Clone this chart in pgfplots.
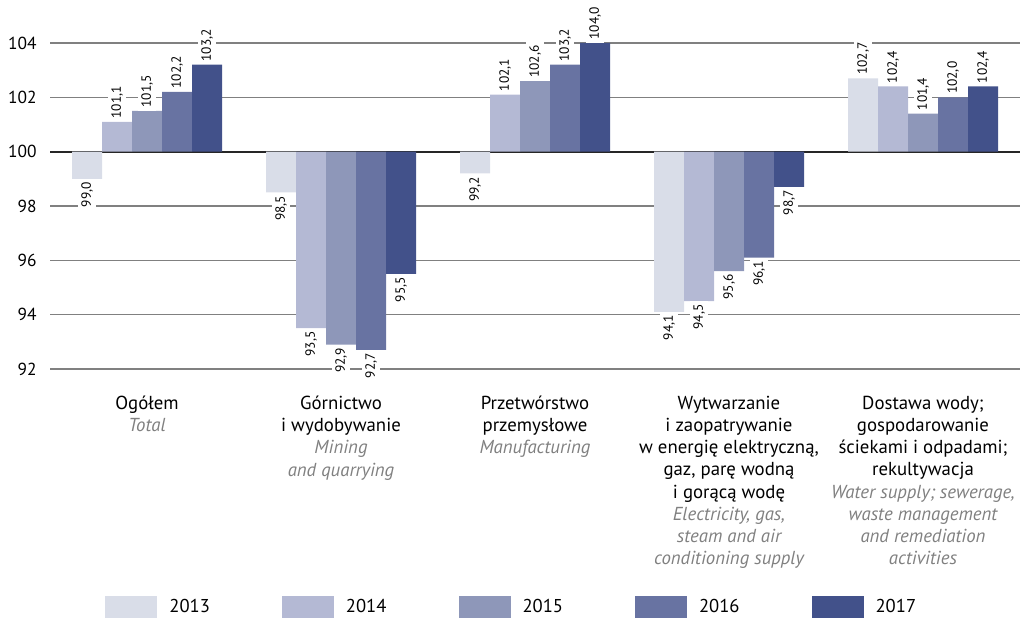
\documentclass[border=0pt]{standalone}
\usepackage{pgfplots}
\pgfplotsset{compat=1.18}
\usepackage{fontspec}
\setmainfont{PT Sans}
\definecolor{c13}{RGB}{217,221,232}
\definecolor{c14}{RGB}{180,185,212}
\definecolor{c15}{RGB}{142,151,185}
\definecolor{c16}{RGB}{104,115,162}
\definecolor{c17}{RGB}{66,81,138}
\definecolor{eng}{RGB}{128,128,128}
\newcommand{\en}[1]{{\color{eng}\itshape #1}}
\begin{document}
\begin{tikzpicture}
\useasboundingbox (0,0) rectangle (510pt,309.5pt);
\begin{axis}[
  at={(25pt,125pt)}, anchor=south west,
  scale only axis, width=485pt, height=163pt,
  ybar=0pt, bar width=15pt,
  xmin=-0.5, xmax=4.5, ymin=-8, ymax=4,
  ytick={-8,-6,...,4}, yticklabels={92,94,96,98,100,102,104},
  yticklabel style={font=\fontsize{8.7}{10}\selectfont, xshift=-3.2pt},
  xtick={0,...,4},
  xticklabels={
    {Ogółem\\\en{Total}},
    {Górnictwo\\i wydobywanie\\\en{Mining}\\\en{and quarrying}},
    {Przetwórstwo\\przemysłowe\\\en{Manufacturing}},
    {Wytwarzanie\\i zaopatrywanie\\w energię elektryczną,\\gaz, parę wodną\\i gorącą wodę\\\en{Electricity, gas,}\\\en{steam and air}\\\en{conditioning supply}},
    {Dostawa wody;\\gospodarowanie\\ściekami i odpadami;\\rekultywacja\\\en{Water supply; sewerage,}\\\en{waste management}\\\en{and remediation}\\\en{activities}}
  },
  xticklabel style={font=\fontsize{9.4}{11.1}\selectfont, align=center, anchor=north, yshift=-10pt},
  axis line style={draw=none}, major tick length=0pt,
  ymajorgrids, grid style={black!50, line width=0.75pt},
  extra y ticks={0}, extra y tick labels={},
  extra y tick style={grid style={black!85, line width=0.9pt}},
  clip=false,
  point meta=explicit,
  visualization depends on={value \thisrow{v} \as \rawv},
  nodes near coords={\pgfmathprintnumber[fixed,fixed zerofill,precision=1,use comma,assume math mode=true]{\pgfplotspointmeta}},
  nodes near coords style={font=\fontsize{6.7}{7}\selectfont, rotate=90, inner sep=1.5pt, fill=white,
     anchor={\ifdim\rawv pt<100pt east\else west\fi}},
  legend columns=5,
  legend style={at={(0.0567,-0.730)}, anchor=west, draw=none, fill=none, inner sep=0pt,
     font=\fontsize{9.3}{10}\selectfont,
     /tikz/every odd column/.append style={column sep=4pt},
     /tikz/every even column/.append style={column sep=34pt}},
  every axis plot/.append style={draw=none,
     legend image code/.code={\fill[##1] (0pt,-5.5pt) rectangle (26pt,5.5pt);}},
]
\addplot[fill=c13] table[x=x, y expr=\thisrow{v}-100, meta=v]{
x v
0 99.0
1 98.5
2 99.2
3 94.1
4 102.7
};
\addplot[fill=c14] table[x=x, y expr=\thisrow{v}-100, meta=v]{
x v
0 101.1
1 93.5
2 102.1
3 94.5
4 102.4
};
\addplot[fill=c15] table[x=x, y expr=\thisrow{v}-100, meta=v]{
x v
0 101.5
1 92.9
2 102.6
3 95.6
4 101.4
};
\addplot[fill=c16] table[x=x, y expr=\thisrow{v}-100, meta=v]{
x v
0 102.2
1 92.7
2 103.2
3 96.1
4 102.0
};
\addplot[fill=c17] table[x=x, y expr=\thisrow{v}-100, meta=v]{
x v
0 103.2
1 95.5
2 104.0
3 98.7
4 102.4
};
\legend{2013,2014,2015,2016,2017}
\end{axis}
\end{tikzpicture}
\end{document}
